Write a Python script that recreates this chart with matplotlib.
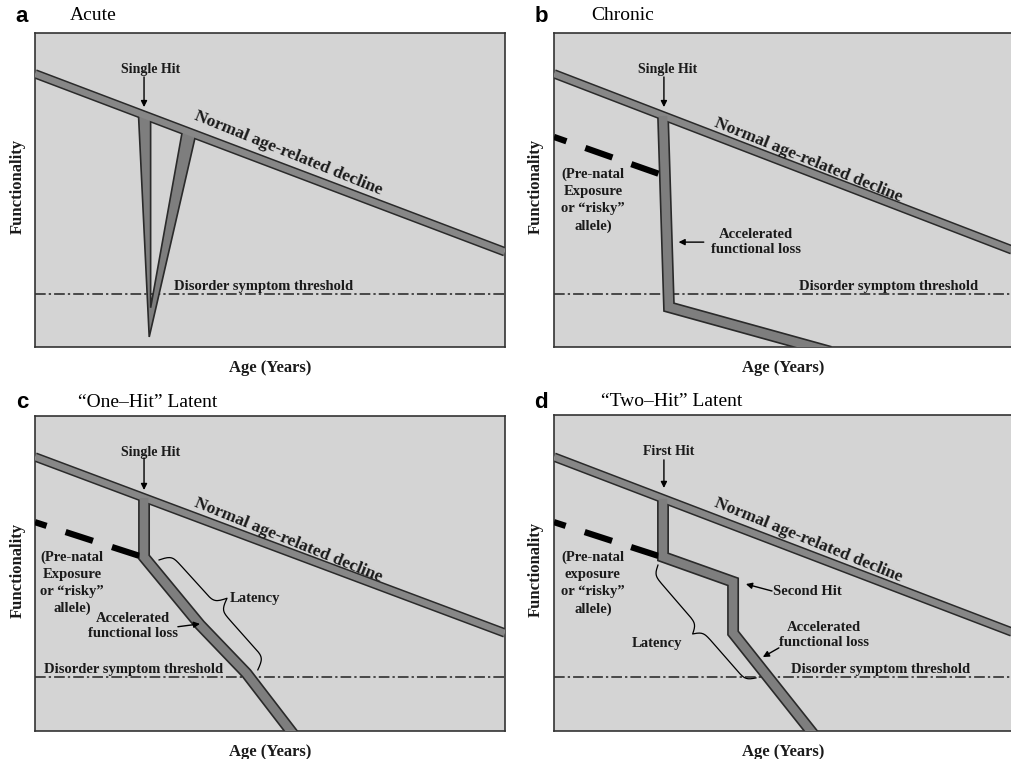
import numpy as np
import matplotlib.pyplot as plt

plt.rcParams['font.family'] = ['Liberation Serif', 'DejaVu Serif']

# schematic curves, x = age (0-100), y = functionality (0-100)
normal_x = [0, 100]
normal_a = [87.0, 30.3]
normal_b = [87.0, 30.9]
normal_c = [87.0, 31.1]
normal_d = [86.7, 31.3]

threshold = [16.9, 16.9, 17.1, 17.1]

# acute: single hit spike (outline of the V)
spike_x = [22.0, 24.3, 34.2, 31.4, 24.6, 24.6]
spike_y = [74.5, 3.2, 67.6, 69.2, 12.5, 73.0]

# chronic
chronic_x = [23.8, 25.1, 60.3]
chronic_y = [73.6, 12.7, -1.5]

# one-hit latent
onehit_x = [23.2, 23.2, 35.1, 45.0, 55.2]
onehit_y = [74.0, 55.2, 33.7, 18.3, -1.5]

# two-hit latent
twohit_x = [23.8, 23.8, 39.1, 39.1, 56.9]
twohit_y = [73.5, 55.1, 47.2, 31.0, -1.5]

# pre-natal exposure (dashed)
prenatal_b = ([22.8, 0], [55.2, 66.9])
prenatal_c = ([22.2, 0], [55.6, 66.3])
prenatal_d = ([22.8, 0], [55.4, 66.1])

letters = ['a', 'b', 'c', 'd']
titles = ['Acute', 'Chronic', '\u201cOne\u2013Hit\u201d Latent', '\u201cTwo\u2013Hit\u201d Latent']

bg = '#d4d4d4'
band = '#878787'
edge = '#2a2a2a'

fig = plt.figure(figsize=(10.12, 7.59), dpi=100)
W, H = 1012, 759

def add_panel(left, top, right, bottom):
    ax = fig.add_axes([left / W, 1 - bottom / H, (right - left) / W, (bottom - top) / H])
    ax.set_xlim(0, 100)
    ax.set_ylim(0, 100)
    ax.set_facecolor(bg)
    ax.set_xticks([])
    ax.set_yticks([])
    for s in ax.spines.values():
        s.set_color('#333333')
        s.set_linewidth(1.2)
    return ax

ax_a = add_panel(35, 33, 505, 347)
ax_b = add_panel(554, 33, 1012, 347)
ax_c = add_panel(35, 416, 505, 731)
ax_d = add_panel(554, 415, 1012, 731)
axes = [ax_a, ax_b, ax_c, ax_d]

def bands(ax, normal, hitpath):
    ax.plot(normal[0], normal[1], color=edge, lw=6.8, solid_capstyle='butt', zorder=2)
    ax.plot(hitpath[0], hitpath[1], color=edge, lw=8.6, solid_joinstyle='miter',
            solid_capstyle='butt', zorder=2)
    ax.plot(normal[0], normal[1], color=band, lw=4.6, solid_capstyle='butt', zorder=4)
    ax.plot(hitpath[0], hitpath[1], color='#7e7e7e', lw=6.2, solid_joinstyle='miter',
            solid_capstyle='butt', zorder=4)

def prenatal(ax, xy):
    ax.plot(xy[0], xy[1], color='black', lw=4.5, dashes=(4.6, 3.2),
            dash_capstyle='butt', zorder=3)

def thresh(ax, y, xc):
    ax.axhline(y, color='#222222', lw=1.1, ls=(0, (7, 2, 1.5, 2)), zorder=1)
    ax.text(xc, y + 1.3, 'Disorder symptom threshold', ha='center', va='baseline',
            fontsize=10.5, fontweight='bold', color='#1a1a1a')

def hit(ax, label, xt, xa, y0, y1):
    ax.text(xt, 88.5, label, ha='center', va='center', fontsize=10, fontweight='bold', color='#1a1a1a')
    ax.annotate('', xy=(xa, y1), xytext=(xa, y0),
                arrowprops=dict(arrowstyle='-|>', color='black', lw=1, mutation_scale=9,
                                shrinkA=0, shrinkB=0))

def arrow(ax, p0, p1):
    ax.annotate('', xy=p1, xytext=p0,
                arrowprops=dict(arrowstyle='-|>', color='black', lw=1, mutation_scale=9,
                                shrinkA=0, shrinkB=0), zorder=6)

def normal_text(ax, x, y):
    ax.text(x, y, 'Normal age-related decline', ha='center', va='center', rotation=-22,
            rotation_mode='anchor', fontsize=12.5, fontweight='bold', color='#1a1a1a')

def label(ax, x, y, s, ha='center', ls=1.2):
    ax.text(x, y, s, ha=ha, va='center', fontsize=10.5, fontweight='bold',
            color='#1a1a1a', linespacing=ls)

def brace(ax, p1, p2, h, beta=55):
    (x1, y1), (x2, y2) = ax.transData.transform([p1, p2])
    L = np.hypot(x2 - x1, y2 - y1)
    tx, ty = (x2 - x1) / L, (y2 - y1) / L
    nx, ny = -ty, tx
    s = np.linspace(0, 0.5, 100)
    f = 1 / (1 + np.exp(-beta * s)) + 1 / (1 + np.exp(-beta * (s - 0.5)))
    f = np.concatenate([f, f[::-1]]) - 0.5
    s = np.concatenate([s, 1 - s[::-1]])
    px = x1 + s * L * tx + h * f * nx
    py = y1 + s * L * ty + h * f * ny
    pts = ax.transData.inverted().transform(np.column_stack([px, py]))
    ax.plot(pts[:, 0], pts[:, 1], color='black', lw=0.9, zorder=5)

# panel a
ax_a.plot(normal_x, normal_a, color=edge, lw=6.8, solid_capstyle='butt', zorder=2)
ax_a.fill(spike_x, spike_y, facecolor='#7e7e7e', edgecolor=edge, lw=1.2, zorder=3)
ax_a.plot(normal_x, normal_a, color=band, lw=4.6, solid_capstyle='butt', zorder=4)
thresh(ax_a, threshold[0], 48.7)
hit(ax_a, 'Single Hit', 24.5, 23.2, 86, 76.4)
normal_text(ax_a, 53.8, 61.8)

# panel b
bands(ax_b, (normal_x, normal_b), (chronic_x, chronic_y))
prenatal(ax_b, prenatal_b)
thresh(ax_b, threshold[1], 73.1)
hit(ax_b, 'Single Hit', 24.9, 24.0, 86, 76.4)
normal_text(ax_b, 55.5, 59.6)
label(ax_b, 8.5, 46.8, '(Pre-natal\nExposure\nor \u201crisky\u201d\nallele)', ls=1.4)
label(ax_b, 44.1, 33.4, 'Accelerated\nfunctional loss')
arrow(ax_b, (32.7, 33.4), (27.2, 33.4))

# panel c
bands(ax_c, (normal_x, normal_c), (onehit_x, onehit_y))
prenatal(ax_c, prenatal_c)
thresh(ax_c, threshold[2], 21.0)
hit(ax_c, 'Single Hit', 24.5, 23.2, 86.7, 76.5)
normal_text(ax_c, 53.8, 60.6)
label(ax_c, 7.9, 47.0, '(Pre-natal\nExposure\nor \u201crisky\u201d\nallele)', ls=1.4)
label(ax_c, 20.9, 33.3, 'Accelerated\nfunctional loss')
arrow(ax_c, (30.4, 33.1), (35.1, 34.0))
brace(ax_c, (26.4, 54.3), (47.4, 19.4), 25)
label(ax_c, 41.5, 42.2, 'Latency', ha='left')

# panel d
bands(ax_d, (normal_x, normal_d), (twohit_x, twohit_y))
prenatal(ax_d, prenatal_d)
thresh(ax_d, threshold[3], 71.4)
hit(ax_d, 'First Hit', 25.1, 24.0, 85.8, 76.9)
normal_text(ax_d, 55.5, 60.4)
label(ax_d, 8.5, 46.8, '(Pre-natal\nexposure\nor \u201crisky\u201d\nallele)', ls=1.4)
label(ax_d, 47.8, 44.3, 'Second Hit', ha='left')
arrow(ax_d, (47.6, 44.3), (41.9, 46.5))
label(ax_d, 59.0, 30.4, 'Accelerated\nfunctional loss')
arrow(ax_d, (49.1, 26.3), (45.6, 23.4))
brace(ax_d, (22.7, 52.5), (44.1, 16.8), -19)
label(ax_d, 27.9, 27.8, 'Latency', ha='right')

# axis labels
for ax, xo in zip(axes, [-0.036, -0.039, -0.036, -0.039]):
    ax.text(0.5, -0.068, 'Age (Years)', transform=ax.transAxes, ha='center', va='center',
            fontsize=12, fontweight='bold', color='#1a1a1a')
    ax.text(xo, 0.51, 'Functionality', transform=ax.transAxes, ha='center', va='center',
            rotation=90, fontsize=12, fontweight='bold', color='#1a1a1a')

# panel letters and titles
letter_pos = [(22, 16), (541, 16), (22, 403), (541, 402)]
title_pos = [(70, 16), (591, 16), (78, 402), (601, 401)]
for l, (lx, ly), t, (tx, ty) in zip(letters, letter_pos, titles, title_pos):
    fig.text(lx / W, 1 - ly / H, l, ha='center', va='center', fontsize=16, fontweight='bold',
             family='Liberation Sans')
    fig.text(tx / W, 1 - ty / H, t, ha='left', va='center', fontsize=14)

fig.savefig('out.png', dpi=100)
